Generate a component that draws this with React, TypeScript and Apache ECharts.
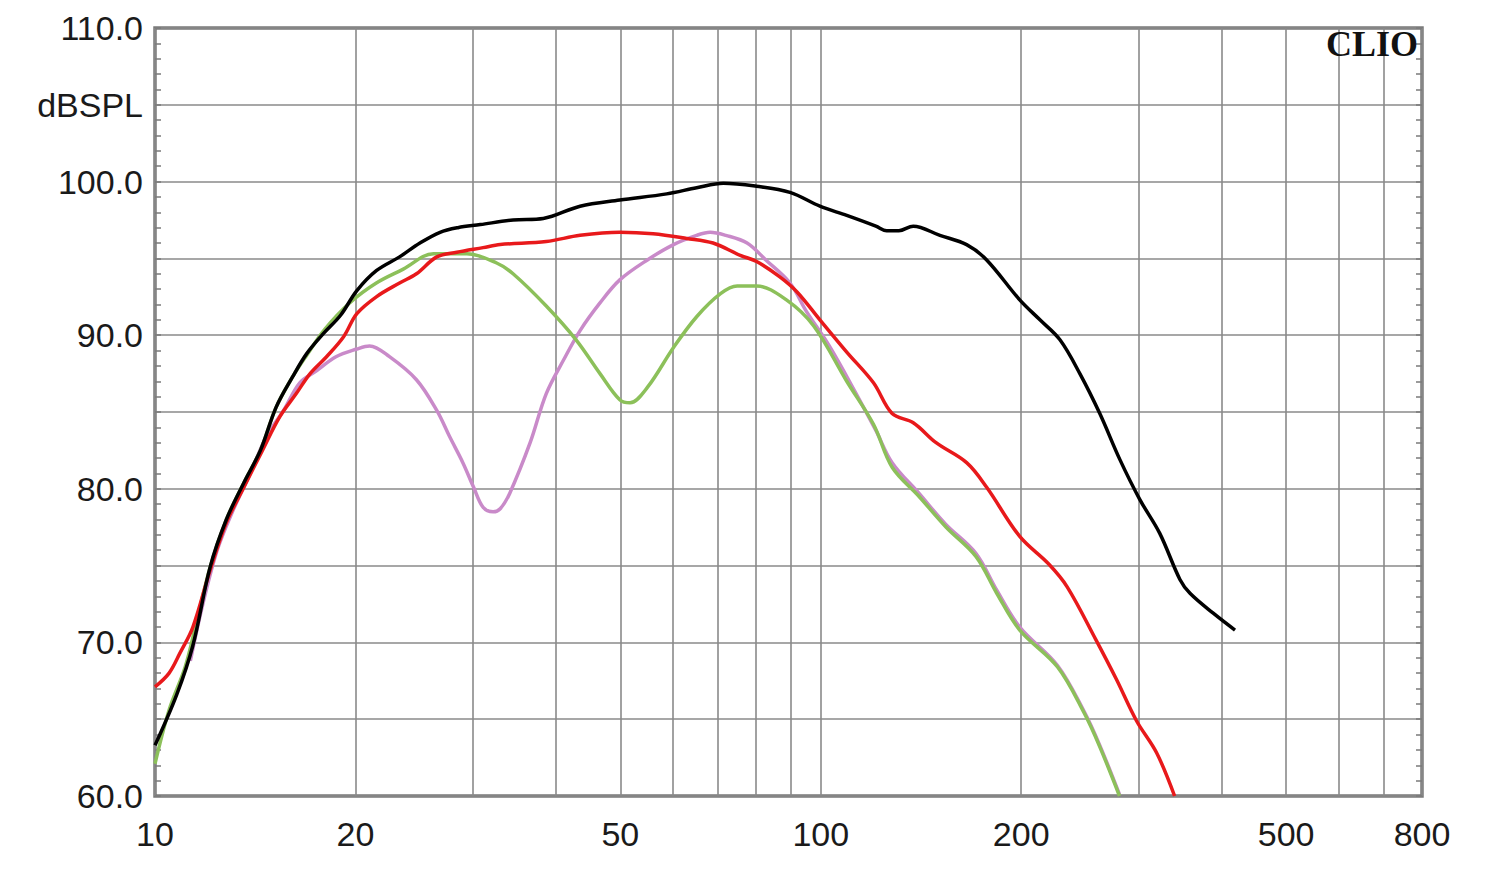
import React, { useEffect, useRef } from 'react';
import * as echarts from 'echarts';

// Frequency (Hz) grid lines and labelled ticks
const xGridValues = [10, 20, 30, 40, 50, 60, 70, 80, 90, 100, 200, 300, 400, 500, 600, 700, 800];
const xLabelValues = [10, 20, 50, 100, 200, 500, 800];

// [frequency Hz, dB SPL]
const blackCurve: [number, number][] = [
  [10.0, 63.3], [10.78, 66.6], [11.4, 69.8], [12.1, 74.9], [12.8, 78.0], [13.6, 80.4], [14.4, 82.5],
  [15.2, 85.3], [16.1, 87.3], [16.9, 88.8], [17.9, 90.1], [19.0, 91.3], [20.1, 92.9], [21.5, 94.2],
  [23.3, 95.1], [25.0, 96.0], [26.8, 96.7], [28.5, 97.0], [30.8, 97.2], [34.5, 97.5], [38.3, 97.6],
  [43.5, 98.4], [49.9, 98.8], [58.7, 99.2], [65.1, 99.6], [71.4, 99.9], [80.1, 99.7], [89.9, 99.3],
  [99.7, 98.4], [109.4, 97.8], [121, 97.1], [125.6, 96.8], [131, 96.8], [137.7, 97.1], [151, 96.5],
  [165.6, 95.9], [177.5, 94.9], [199, 92.3], [213.4, 91.0], [228.7, 89.7], [245, 87.5], [262.5, 84.9],
  [281.4, 81.9], [301.5, 79.3], [323, 77.1], [346.3, 74.1], [358.6, 73.2], [388.6, 71.9], [419, 70.8],
];

const redCurve: [number, number][] = [
  [10.0, 67.1], [10.5, 68.0], [10.9, 69.3], [11.4, 71.0], [12.1, 74.7], [12.8, 77.8], [13.6, 80.1],
  [14.5, 82.5], [15.4, 84.7], [16.3, 86.2], [17.1, 87.5], [18.1, 88.6], [19.2, 89.9], [20.1, 91.4],
  [21.5, 92.5], [23.3, 93.4], [24.7, 94.0], [26.5, 95.1], [28.4, 95.4], [31.1, 95.7], [33, 95.9],
  [38.7, 96.1], [43.5, 96.5], [49.9, 96.7], [56.0, 96.6], [62.9, 96.3], [68.9, 96.0], [75.7, 95.2],
  [80.1, 94.8], [86.8, 93.8], [92.2, 92.8], [99.7, 91.0], [109.4, 88.9], [120, 86.9], [128, 84.9],
  [137.7, 84.3], [149, 83.0], [165.6, 81.7], [177.5, 80.1], [199, 76.9], [220, 75.1], [234.6, 73.6],
  [258.8, 70.2], [278, 67.6], [298, 64.9], [319.6, 62.8], [340, 60.0],
];

const greenCurve: [number, number][] = [
  [10.0, 62.1], [10.5, 65.6], [11.1, 68.4], [11.5, 71.0], [12.1, 74.9], [12.8, 78.0], [13.6, 80.4],
  [14.4, 82.5], [15.2, 85.3], [16.1, 87.3], [16.9, 88.7], [18.0, 90.4], [19.6, 92.1], [21.5, 93.4],
  [23.6, 94.3], [26.2, 95.3], [29.4, 95.3], [32.6, 94.7], [34.5, 94.0], [38.7, 91.9], [42.9, 89.7],
  [46.6, 87.5], [49.9, 85.8], [51.7, 85.6], [54.9, 86.6], [60.1, 89.2], [65.1, 91.2], [70.7, 92.7],
  [74.9, 93.2], [80.1, 93.2], [88.8, 92.3], [97.6, 90.6], [109.4, 87.0], [120, 84.2], [128, 81.4],
  [140.5, 79.5], [154.3, 77.5], [171, 75.6], [183.8, 73.2], [199, 70.8], [226.8, 68.4], [248.7, 65.4],
  [262.5, 63.2], [281, 60.0],
];

const pinkCurve: [number, number][] = [
  [11.3, 68.8], [11.8, 72.5], [12.4, 76.0], [13.1, 78.6], [13.9, 81.0], [14.7, 83.4], [15.6, 85.1],
  [16.5, 86.9], [17.5, 87.7], [18.7, 88.6], [20.1, 89.1], [21.0, 89.3], [22.5, 88.6], [24.7, 87.1],
  [26.5, 85.1], [27.7, 83.4], [29.0, 81.7], [30.1, 80.1], [31.1, 78.8], [32.2, 78.5], [33.0, 78.7],
  [34.1, 79.7], [36.6, 83.0], [38.7, 86.2], [41.1, 88.4], [43.5, 90.3], [46.6, 92.1], [49.9, 93.6],
  [54.9, 94.9], [60.1, 95.9], [65.1, 96.5], [68.2, 96.7], [72.0, 96.5], [77.5, 96.0], [82.7, 94.9],
  [89.9, 93.4], [95, 91.6], [103, 89.3], [113, 86.2], [121, 83.8], [128, 81.7], [140.5, 79.7],
  [154, 77.7], [171, 75.8], [183.8, 73.4], [199, 71.0], [226.8, 68.5], [248.7, 65.5], [262.5, 63.3],
  [281, 60.1],
];

const seriesDefs = [
  { name: 'pink', data: pinkCurve, color: '#c98ac9' },
  { name: 'green', data: greenCurve, color: '#8cc05a' },
  { name: 'red', data: redCurve, color: '#e8191b' },
  { name: 'black', data: blackCurve, color: '#000000' },
];

export default function App() {
  const ref = useRef<HTMLDivElement>(null);
  useEffect(() => {
    if (!ref.current) return;
    const chart = echarts.init(ref.current, null, { renderer: 'svg' });
    const gridColor = '#8a8a8a';
    const frameColor = '#7a7a7a';
    const labelFont = {
      fontSize: 34,
      color: '#1a1a1a',
      fontFamily: '"Liberation Sans", Arial, sans-serif',
    };
    chart.setOption({
      animation: false,
      backgroundColor: '#ffffff',
      grid: {
        left: 155,
        top: 28,
        right: 78,
        bottom: 73,
        show: true,
        borderColor: frameColor,
        borderWidth: 3.5,
        backgroundColor: 'transparent',
      },
      xAxis: {
        type: 'log',
        logBase: 10,
        min: 10,
        max: 800,
        axisLine: { show: false },
        axisTick: { show: false, customValues: xGridValues },
        axisLabel: {
          ...labelFont,
          customValues: xLabelValues,
          margin: 21,
          formatter: (v: number) => String(Math.round(v)),
        },
        splitLine: { show: true, lineStyle: { color: gridColor, width: 1.6 } },
      },
      yAxis: [
        {
          type: 'value',
          min: 60,
          max: 110,
          interval: 5,
          position: 'left',
          axisLine: { show: false },
          axisTick: { show: true, inside: true, length: 6, lineStyle: { color: frameColor, width: 1.5 } },
          minorTick: { show: true, splitNumber: 5, length: 6, lineStyle: { color: frameColor, width: 1.5 } },
          axisLabel: {
            ...labelFont,
            margin: 12,
            formatter: (v: number) => (v === 105 ? 'dBSPL' : v % 10 === 0 ? v.toFixed(1) : ''),
          },
          splitLine: { show: true, lineStyle: { color: gridColor, width: 1.6 } },
        },
        {
          type: 'value',
          min: 60,
          max: 110,
          interval: 5,
          position: 'right',
          axisLine: { show: false },
          axisTick: { show: true, inside: true, length: 6, lineStyle: { color: frameColor, width: 1.5 } },
          minorTick: { show: true, splitNumber: 5, length: 6, lineStyle: { color: frameColor, width: 1.5 } },
          axisLabel: { show: false },
          splitLine: { show: false },
        },
      ],
      graphic: [
        {
          type: 'text',
          right: 82,
          top: 26,
          z: 100,
          style: {
            text: 'CLIO',
            font: 'bold 36px "Liberation Serif", "Times New Roman", serif',
            fill: '#111111',
          },
        },
      ],
      series: seriesDefs.map((s) => ({
        name: s.name,
        type: 'line',
        data: s.data,
        xAxisIndex: 0,
        yAxisIndex: 0,
        showSymbol: false,
        symbol: 'none',
        smooth: 0.35,
        clip: true,
        lineStyle: { color: s.color, width: 3.5 },
        itemStyle: { color: s.color },
      })),
    });
    return () => chart.dispose();
  }, []);
  return (
    <div
      ref={ref}
      style={{ position: 'fixed', left: 0, top: 0, width: 1500, height: 869, background: '#fff' }}
    />
  );
}
